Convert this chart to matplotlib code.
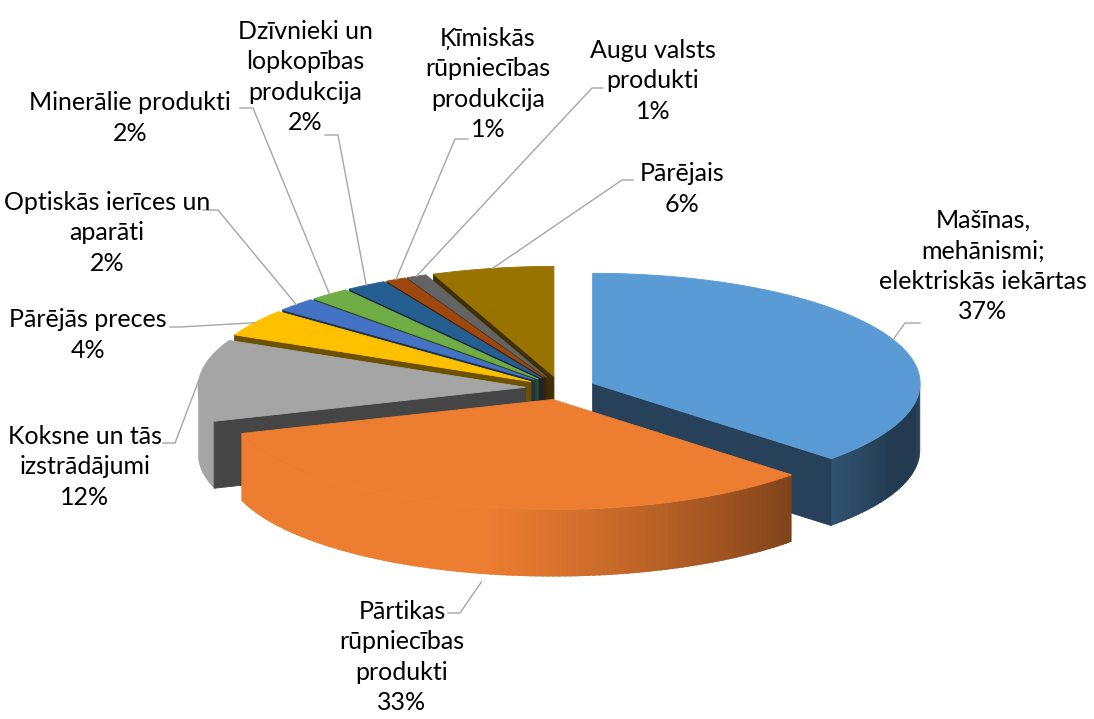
import numpy as np
import matplotlib.pyplot as plt
from matplotlib.patches import Polygon
from matplotlib.colors import to_rgb

# data: share of each product group, %
categories = [
    "Mašīnas,\nmehānismi;\nelektriskās iekārtas",
    "Pārtikas\nrūpniecības\nprodukti",
    "Koksne un tās\nizstrādājumi",
    "Pārējās preces",
    "Optiskās ierīces un\naparāti",
    "Minerālie produkti",
    "Dzīvnieki un\nlopkopības\nprodukcija",
    "Ķīmiskās\nrūpniecības\nprodukcija",
    "Augu valsts\nprodukti",
    "Pārējais",
]
shares = [37, 33, 12, 4, 2, 2, 2, 1, 1, 6]
colors = ["#5B9BD5", "#ED7D31", "#A5A5A5", "#FFC000", "#4472C4",
          "#70AD47", "#255E91", "#9E480E", "#636363", "#997300"]

# label layout in pixels: text centre, stub (x_far, x_near, y)
label_pos = [(983, 266), (402, 657), (85, 467), (88, 335), (107, 233),
             (130, 118), (305, 77), (488, 84), (653, 81), (682, 189)]
label_stub = [(920, 905, 323), (448, 460, 613), (163, 175, 443),
              (170, 180, 327), (203, 218, 210), (240, 253, 108),
              (325, 338, 135), (468, 455, 139), (603, 592, 88),
              (633, 622, 180)]

# pie geometry (pixels)
W, HGT = 1094, 719
CX, CY = 560.5, 388.0
RADIUS = 327.5
TILT = 0.336
DEPTH = 67.0
EXPLODE = 35.0
LINE_COLOR = "#A6A6A6"


def project(x, y, z=0.0):
    """unit pie coords (x east, y north, z down 0..1) -> pixels"""
    return CX + RADIUS * x, CY - RADIUS * TILT * y + DEPTH * z


def shade(color, f):
    return tuple(np.clip(np.array(to_rgb(color)) * f, 0, 1))


def side_light(theta):
    t = np.radians(theta)
    d = -0.8 * np.sin(t) - 0.6 * np.cos(t)
    return float(np.clip(0.62 + 0.5 * d, 0.38, 1.0))


fig = plt.figure(figsize=(W / 100, HGT / 100), dpi=100)
ax = fig.add_axes([0, 0, 1, 1])
ax.set_xlim(0, W)
ax.set_ylim(HGT, 0)
ax.axis("off")

fracs = np.array(shares, dtype=float) / sum(shares)
ends = np.cumsum(fracs) * 360
starts = ends - fracs * 360
mids = (starts + ends) / 2

# back to front
order = np.argsort(-np.cos(np.radians(mids)))
for i in order:
    a, b, m = starts[i], ends[i], mids[i]
    ox = EXPLODE / RADIUS * np.sin(np.radians(m))
    oy = EXPLODE / RADIUS * np.cos(np.radians(m))

    def rim(theta, z=0.0):
        t = np.radians(theta)
        return project(ox + np.sin(t), oy + np.cos(t), z)

    centre_top = project(ox, oy, 0)
    centre_bot = project(ox, oy, 1)

    # outer wall, thin overlapping strips for the shading
    lo, hi = max(a, 90), min(b, 270)
    if hi > lo:
        n = max(2, int((hi - lo) / 1.0))
        th = np.linspace(lo, hi, n + 1)
        for t0, t1 in zip(th[:-1], th[1:]):
            t1x = min(t1 + 0.7, hi)
            c = shade(colors[i], side_light((t0 + t1) / 2))
            ax.add_patch(Polygon([rim(t0), rim(t1x), rim(t1x, 1), rim(t0, 1)],
                                 closed=True, fc=c, lw=0))

    # cut faces
    dark = shade(colors[i], 0.42)
    if np.sin(np.radians(a)) < -1e-6:
        ax.add_patch(Polygon([centre_top, rim(a), rim(a, 1), centre_bot],
                             closed=True, fc=dark, ec=dark, lw=0.6))
    if np.sin(np.radians(b)) > 1e-6:
        ax.add_patch(Polygon([centre_top, rim(b), rim(b, 1), centre_bot],
                             closed=True, fc=dark, ec=dark, lw=0.6))

    # top face
    th = np.linspace(a, b, max(3, int(b - a) * 2))
    pts = [centre_top] + [rim(t) for t in th]
    ax.add_patch(Polygon(pts, closed=True, fc=colors[i], ec=colors[i], lw=0.6))

# labels and leader lines
for i in range(len(shares)):
    m = np.radians(mids[i])
    ox = EXPLODE / RADIUS * np.sin(m)
    oy = EXPLODE / RADIUS * np.cos(m)
    z = 1.12 if np.cos(m) < 0 else 0.0
    anchor = project(ox + np.sin(m), oy + np.cos(m), z)
    xf, xn, ys = label_stub[i]
    ax.plot([xf, xn, anchor[0]], [ys, ys, anchor[1]], color=LINE_COLOR, lw=1.0)
    tx, ty = label_pos[i]
    ax.text(tx, ty, f"{categories[i]}\n{shares[i]}%", ha="center", va="center",
            multialignment="center", fontsize=18, linespacing=1.4,
            family=["Lato", "DejaVu Sans"], color="black")

fig.savefig("out.png", dpi=100)
